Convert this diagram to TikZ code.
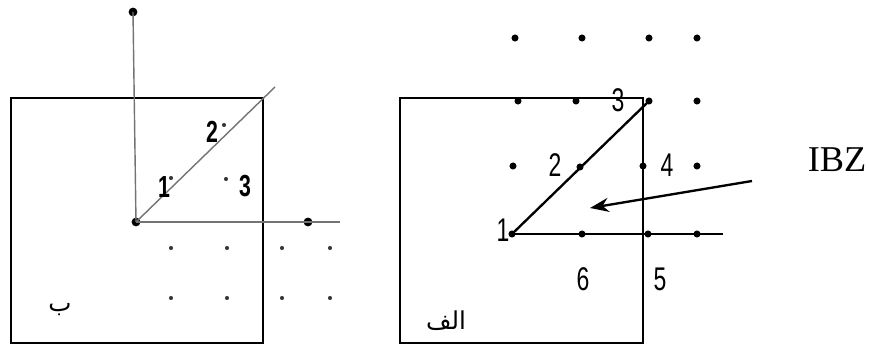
\documentclass[tikz,border=0pt]{standalone}
\usepackage{fontspec}
\setmainfont{Liberation Serif}
\newfontfamily\numfont[FakeStretch=0.7]{Liberation Sans}
\newfontfamily\arabicfont[Script=Arabic]{DejaVu Sans}
\TeXXeTstate=1
\usepackage{tikz}
\usetikzlibrary{positioning,arrows.meta}

\begin{document}
\begin{tikzpicture}[x=0.03cm,y=-0.03cm,
          frame/.style={draw=black,line width=2pt},
          axis/.style={draw=black!55,line width=1.2pt},
          edge/.style={draw=black,line width=2pt},
          big/.style={circle,fill=black,inner sep=0pt,minimum size=7.5pt},
          pt/.style={circle,fill=black,inner sep=0pt,minimum size=6pt},
          tiny/.style={circle,fill=black!80,inner sep=0pt,minimum size=3.5pt},
          num/.style={inner sep=0pt,font=\numfont\fontsize{28}{30}\selectfont},
          bnum/.style={inner sep=0pt,font=\numfont\bfseries\fontsize{26}{28}\selectfont},
          arab/.style={inner sep=0pt,font=\arabicfont\fontsize{21}{23}\selectfont},
        ]
        \useasboundingbox (0,0) rectangle (869,345);
        % panel b
        \draw[frame] (11,98) rectangle (263,343);
        \node[big] (bo) at (136,222) {};
        \node[big] (btop) at (133,12) {};
        \node[big] (bright) at (308,222) {};
        \coordinate (bx) at (340,222);
        \coordinate (bd) at (275,87);
        \draw[axis] (bo.center) -- (btop.center);
        \draw[axis] (bo.center) -- (bx);
        \draw[axis] (bo.center) -- (bd);
        \node[bnum] (b1) at (164,187) {1};
        \node[bnum] (b2) at (212,132) {2};
        \node[bnum] (b3) at (245,186) {3};
        \node[tiny] (b1p) at (171,178) {};
        \node[tiny] (b2p) at (224,125) {};
        \node[tiny] (b3p) at (226,179) {};
        \foreach \x in {171,227,282,330} {
          \foreach \y in {248,298} {
            \node[tiny] (b\x\y) at (\x,\y) {};
          }
        }
        \node[arab] (blab) at (60,310) {\beginR ب\endR};
        % panel alef
        \draw[frame,line width=1.7pt] (400,98) rectangle (643,343);
        \foreach \x/\y in {515/38,582/38,649/38,697/38,518/101,576/101,697/101,
                           513/166,643/166,697/166,582/234,648/234,697/234} {
          \node[pt] (a\x\y) at (\x,\y) {};
        }
        \node[pt] (ao) at (512,234) {};
        \node[pt] (amid) at (580,167) {};
        \node[pt] (acorner) at (649,101) {};
        \coordinate (ax) at (723,234);
        \draw[edge] (ao.center) -- (acorner.center);
        \draw[edge] (ao.center) -- (ax);
        \node[num] (a1) at (503,230) {1};
        \node[num] (a2) at (555,165) {2};
        \node[num] (a3) at (618,100) {3};
        \node[num] (a4) at (667,165) {4};
        \node[num] (a6) at (583,279) {6};
        \node[num] (a5) at (660,279) {5};
        \node[arab] (alab) at (446,321) {\beginR الف\endR};
        \node[inner sep=0pt,font=\fontsize{31}{33}\selectfont] (ibz) at (837,160) {IBZ};
        \coordinate (tail) at (752,181);
        \coordinate (head) at (590,208);
        \draw[edge,-{Stealth[length=16pt,width=12pt]}] (tail) -- (head);
      \end{tikzpicture}
\end{document}
